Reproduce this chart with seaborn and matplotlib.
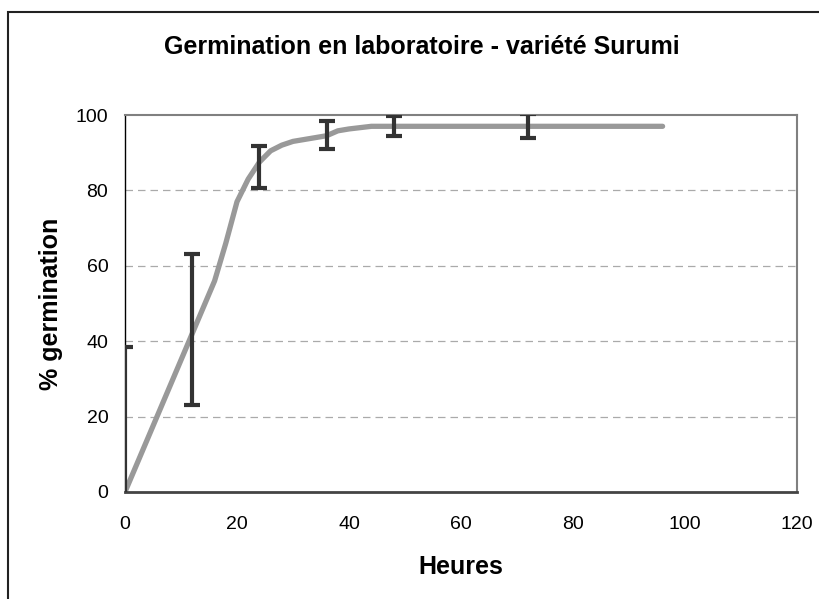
import numpy as np
import pandas as pd
import matplotlib
matplotlib.use("Agg")
import matplotlib.pyplot as plt
import seaborn as sns
from matplotlib.patches import Rectangle

# Germination curve (smoothed Excel line)
heures = [0, 4, 8, 12, 16, 18, 20, 22, 24, 26, 28, 30, 32, 36, 38, 40, 44, 48, 60, 72, 84, 96]
germ = [0, 14, 28, 42, 56, 66, 77, 83, 87.5, 90.5, 92, 93, 93.5, 94.5, 95.8, 96.3, 97, 97, 97, 97, 97, 97]

# Means and error bars at measurement times
obs_heures = [0, 12, 24, 36, 48, 72]
obs_moy = [0, 43.2, 86.3, 94.7, 97.0, 97.0]
obs_err = [38.5, 20.0, 5.6, 3.8, 2.7, 3.2]

df = pd.DataFrame({"heures": heures, "germ": germ})

sns.set_style("white")
plt.rcParams["font.family"] = ["Liberation Sans", "DejaVu Sans"]
plt.rcParams["text.color"] = "black"

fig = plt.figure(figsize=(8.2, 5.99), dpi=100)
ax = fig.add_axes([125 / 820, 1 - 492 / 599, 672 / 820, 377 / 599])

# outer chart border (cut at the right and bottom like the original)
fig.patches.append(Rectangle((8 / 820, -0.05), 1.2, 1 - 12 / 599 + 0.05,
                             transform=fig.transFigure, fill=False,
                             edgecolor="#222222", linewidth=1.5))

for y in [20, 40, 60, 80]:
    ax.axhline(y, color="#aaaaaa", linestyle=(0, (6, 4)), linewidth=0.9, zorder=0)

sns.lineplot(data=df, x="heures", y="germ", ax=ax, color="#999999",
             linewidth=3.8, solid_capstyle="round")

eb = ax.errorbar(obs_heures, obs_moy, yerr=obs_err, fmt="none", ecolor="#333333",
                 elinewidth=3, capsize=6, capthick=3, zorder=3)
for cap in eb[1]:
    cap.set_solid_capstyle("round")

ax.set_xlim(0, 120)
ax.set_ylim(0, 100)
ax.set_xticks(range(0, 121, 20))
ax.set_yticks(range(0, 101, 20))
ax.tick_params(axis="both", direction="out", length=5, width=1, colors="black",
               labelsize=14)
ax.tick_params(axis="y", pad=7)
ax.tick_params(axis="x", pad=12)

for side in ["top", "right"]:
    ax.spines[side].set_color("#808080")
    ax.spines[side].set_linewidth(1.5)
ax.spines["left"].set_color("black")
ax.spines["left"].set_linewidth(1)
ax.spines["bottom"].set_color("#444444")
ax.spines["bottom"].set_linewidth(2)

ax.set_xlabel("Heures", fontsize=18, fontweight="bold", labelpad=16, color="black")
ax.set_ylabel("% germination", fontsize=18, fontweight="bold", labelpad=9, color="black")
fig.text(422 / 820, 1 - 47 / 599, "Germination en laboratoire - variété Surumi",
         ha="center", va="center", fontsize=18, fontweight="bold", color="black")

fig.savefig("out.png", dpi=100)
